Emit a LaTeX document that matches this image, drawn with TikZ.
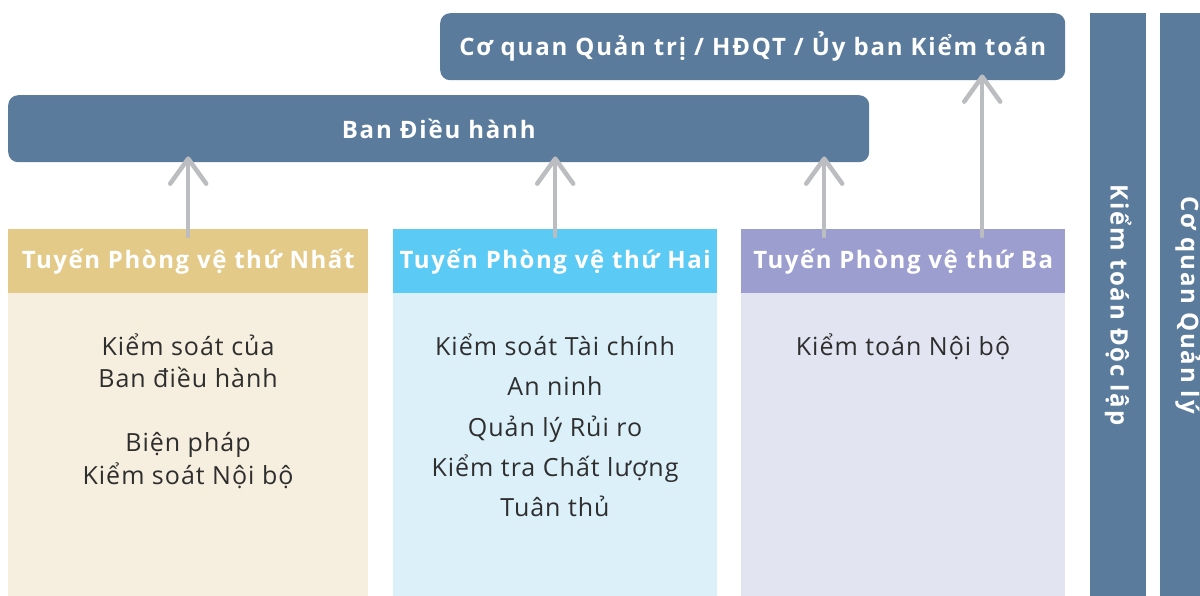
\documentclass[tikz,border=0pt]{standalone}
\usepackage{fontspec}
\setmainfont{Open Sans}[LetterSpace=4]
\newfontfamily\hfont{Open Sans}[LetterSpace=6.5]
\newfontfamily\tfont{Open Sans}[LetterSpace=7.5]
\usetikzlibrary{arrows.meta}
\definecolor{dblue}{HTML}{5A7B9B}
\definecolor{hA}{HTML}{E4CA89}
\definecolor{bA}{HTML}{F6EEDE}
\definecolor{hB}{HTML}{5BCBF5}
\definecolor{bB}{HTML}{DCF0FA}
\definecolor{hC}{HTML}{9B9ECE}
\definecolor{bC}{HTML}{E3E4F2}
\definecolor{arrgray}{HTML}{BCBDC0}
\definecolor{txt}{HTML}{2E2E2E}
\tikzset{
  boldtxt/.style={text=white, font=\hfont\fontsize{24}{28}\selectfont\bfseries},
  toptxt/.style={text=white, font=\tfont\fontsize{24}{28}\selectfont\bfseries},
  topbox/.style={fill=dblue, rounded corners=10pt, inner sep=0pt, anchor=north west},
  headbox/.style={inner sep=0pt, anchor=north west, minimum height=64pt, boldtxt},
  bodybox/.style={inner sep=0pt, anchor=north west},
  bar/.style={fill=dblue, inner sep=0pt, anchor=north west},
  bartext/.style={rotate=-90, toptxt},
  line/.style={anchor=base, text=txt, font=\fontsize{25}{29}\selectfont},
  arr/.style={draw=arrgray, line width=4.5pt, line cap=round, -{Straight Barb[length=25pt,width=36pt,line cap=round,line join=round]}}
}
\begin{document}
\begin{tikzpicture}[x=1pt,y=-1pt]
\useasboundingbox (0,0) rectangle (1200,596);
\clip (0,0) rectangle (1200,596);
% top boxes
\node[topbox, minimum width=625pt, minimum height=67pt] (gov) at (440,13) {};
\node[toptxt] (govt) at (gov.center) {Cơ quan Quản trị / HĐQT / Ủy ban Kiểm toán};
\node[topbox, minimum width=861pt, minimum height=67pt] (ban) at (8,95) {};
\node[toptxt] (bant) at (ban.center) {Ban Điều hành};
% columns
\node[headbox, fill=hA, minimum width=360pt] (h1) at (8,229) {Tuyến Phòng vệ thứ Nhất};
\node[bodybox, fill=bA, minimum width=360pt, minimum height=310pt] (b1) at (8,293) {};
\node[headbox, fill=hB, minimum width=324pt] (h2) at (393,229) {Tuyến Phòng vệ thứ Hai};
\node[bodybox, fill=bB, minimum width=324pt, minimum height=310pt] (b2) at (393,293) {};
\node[headbox, fill=hC, minimum width=324pt] (h3) at (741,229) {Tuyến Phòng vệ thứ Ba};
\node[bodybox, fill=bC, minimum width=324pt, minimum height=310pt] (b3) at (741,293) {};
% body texts
\node[line] (t11) at (188,355) {Kiểm soát của};
\node[line] (t12) at (188,387) {Ban điều hành};
\node[line] (t13) at (188,451) {Biện pháp};
\node[line] (t14) at (188,484) {Kiểm soát Nội bộ};
\node[line] (t21) at (555,355) {Kiểm soát Tài chính};
\node[line] (t22) at (555,395) {An ninh};
\node[line] (t23) at (555,436) {Quản lý Rủi ro};
\node[line] (t24) at (555,476) {Kiểm tra Chất lượng};
\node[line] (t25) at (555,516) {Tuân thủ};
\node[line] (t31) at (903,355) {Kiểm toán Nội bộ};
% side bars
\node[bar, minimum width=56pt, minimum height=600pt] (v1) at (1090,13) {};
\node[bartext] (v1t) at (v1.center |- 0,305) {Kiểm toán Độc lập};
\node[bar, minimum width=56pt, minimum height=600pt] (v2) at (1160,13) {};
\node[bartext] (v2t) at (v2.center |- 0,305) {Cơ quan Quản lý};
% arrow anchor points
\coordinate (a1) at ([yshift=-7pt]h1.north);
\coordinate (a2) at ([yshift=-7pt]h2.north);
\coordinate (a3) at ([xshift=-79pt,yshift=-7pt]h3.north);
\coordinate (a4) at ([xshift=79pt,yshift=-7pt]h3.north);
\coordinate (e1) at ([yshift=6pt]ban.south);
\coordinate (e4) at ([yshift=6pt]gov.south);
% arrows
\draw[arr] (a1) -- (a1 |- e1);
\draw[arr] (a2) -- (a2 |- e1);
\draw[arr] (a3) -- (a3 |- e1);
\draw[arr] (a4) -- (a4 |- e4);
\end{tikzpicture}
\end{document}
